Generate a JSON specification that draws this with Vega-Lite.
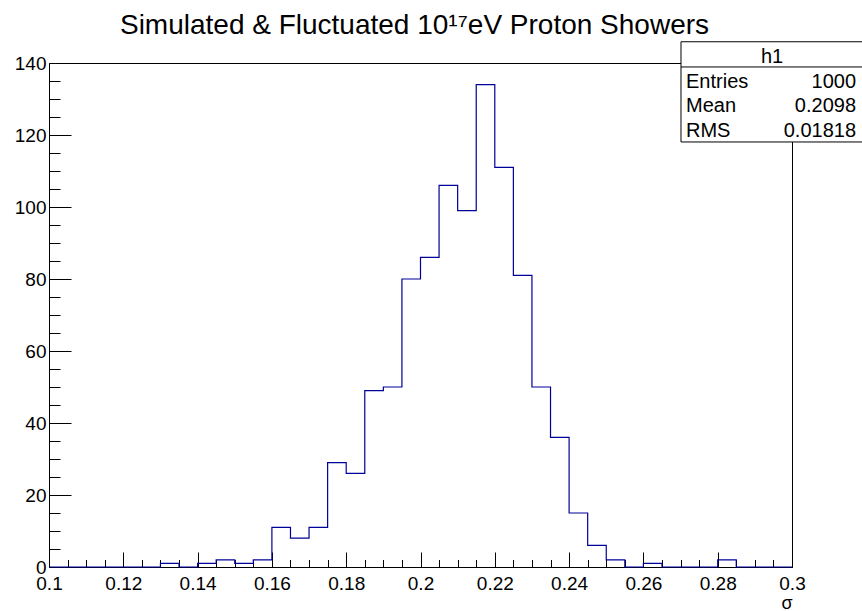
{
  "$schema": "https://vega.github.io/schema/vega-lite/v6.json",
  "width": 743,
  "height": 504,
  "autosize": {"type": "none"},
  "padding": {"left": 49, "top": 63, "right": 70, "bottom": 44},
  "background": "white",
  "config": {
    "view": {"stroke": "black", "strokeWidth": 1},
    "font": "Liberation Sans",
    "axis": {"labelFont": "Liberation Sans", "titleFont": "Liberation Sans", "labelColor": "black", "titleColor": "black", "domainColor": "black", "tickColor": "black", "grid": false}
  },
  "title": {
    "text": "Simulated & Fluctuated 10¹⁷eV Proton Showers",
    "font": "Liberation Sans",
    "fontSize": 28,
    "fontWeight": "normal",
    "color": "black",
    "anchor": "middle",
    "frame": "group",
    "baseline": "alphabetic",
    "offset": -21,
    "dx": -6
  },
  "data": {
    "values": [
      {"sigma": 0.100, "count": 0},
      {"sigma": 0.105, "count": 0},
      {"sigma": 0.110, "count": 0},
      {"sigma": 0.115, "count": 0},
      {"sigma": 0.120, "count": 0},
      {"sigma": 0.125, "count": 0},
      {"sigma": 0.130, "count": 1},
      {"sigma": 0.135, "count": 0},
      {"sigma": 0.140, "count": 1},
      {"sigma": 0.145, "count": 2},
      {"sigma": 0.150, "count": 1},
      {"sigma": 0.155, "count": 2},
      {"sigma": 0.160, "count": 11},
      {"sigma": 0.165, "count": 8},
      {"sigma": 0.170, "count": 11},
      {"sigma": 0.175, "count": 29},
      {"sigma": 0.180, "count": 26},
      {"sigma": 0.185, "count": 49},
      {"sigma": 0.190, "count": 50},
      {"sigma": 0.195, "count": 80},
      {"sigma": 0.200, "count": 86},
      {"sigma": 0.205, "count": 106},
      {"sigma": 0.210, "count": 99},
      {"sigma": 0.215, "count": 134},
      {"sigma": 0.220, "count": 111},
      {"sigma": 0.225, "count": 81},
      {"sigma": 0.230, "count": 50},
      {"sigma": 0.235, "count": 36},
      {"sigma": 0.240, "count": 15},
      {"sigma": 0.245, "count": 6},
      {"sigma": 0.250, "count": 2},
      {"sigma": 0.255, "count": 0},
      {"sigma": 0.260, "count": 1},
      {"sigma": 0.265, "count": 0},
      {"sigma": 0.270, "count": 0},
      {"sigma": 0.275, "count": 0},
      {"sigma": 0.280, "count": 2},
      {"sigma": 0.285, "count": 0},
      {"sigma": 0.290, "count": 0},
      {"sigma": 0.295, "count": 0},
      {"sigma": 0.300, "count": 0}
    ]
  },
  "layer": [
    {
      "mark": {"type": "line", "interpolate": "step-after", "color": "#000099", "strokeWidth": 1.2},
      "encoding": {
        "x": {
          "field": "sigma", "type": "quantitative",
          "scale": {"domain": [0.1, 0.3], "nice": false, "zero": false},
          "axis": {
            "orient": "bottom",
            "values": [0.1, 0.12, 0.14, 0.16, 0.18, 0.2, 0.22, 0.24, 0.26, 0.28, 0.3],
            "format": "~g",
            "tickSize": -15,
            "labelPadding": 22,
            "labelFontSize": 19,
            "labelFlush": false,
            "labelOverlap": false,
            "title": "σ",
            "titleFontSize": 18,
            "titleFontWeight": "normal",
            "titleAnchor": "end",
            "titleAlign": "right",
            "titlePadding": 1
          }
        },
        "y": {
          "field": "count", "type": "quantitative",
          "scale": {"domain": [0, 140], "nice": false},
          "axis": {
            "orient": "left",
            "values": [0, 20, 40, 60, 80, 100, 120, 140],
            "tickSize": -22,
            "labelPadding": 25,
            "labelFontSize": 19,
            "labelFlush": false,
            "labelOverlap": false,
            "title": null
          }
        }
      }
    },
    {
      "mark": {"type": "line", "opacity": 0},
      "encoding": {
        "x": {
          "field": "sigma", "type": "quantitative",
          "axis": {
            "orient": "bottom",
            "values": [0.105, 0.11, 0.115, 0.125, 0.13, 0.135, 0.145, 0.15, 0.155, 0.165, 0.17, 0.175, 0.185, 0.19, 0.195, 0.205, 0.21, 0.215, 0.225, 0.23, 0.235, 0.245, 0.25, 0.255, 0.265, 0.27, 0.275, 0.285, 0.29, 0.295],
            "tickSize": -7.5,
            "labels": false,
            "domain": false,
            "title": null
          }
        },
        "y": {
          "field": "count", "type": "quantitative",
          "axis": {
            "orient": "left",
            "values": [5, 10, 15, 25, 30, 35, 45, 50, 55, 65, 70, 75, 85, 90, 95, 105, 110, 115, 125, 130, 135],
            "tickSize": -11,
            "labels": false,
            "domain": false,
            "title": null
          }
        }
      }
    },
    {
      "data": {"values": [{}]},
      "mark": {"type": "rect", "fill": "white", "stroke": "black", "strokeWidth": 1},
      "encoding": {
        "x": {"datum": 0.27012, "type": "quantitative", "axis": null},
        "x2": {"datum": 0.3195},
        "y": {"datum": 145.9, "type": "quantitative", "axis": null},
        "y2": {"datum": 118.06}
      }
    },
    {
      "data": {"values": [{}]},
      "mark": {"type": "rule", "color": "black", "strokeWidth": 1},
      "encoding": {
        "x": {"datum": 0.27012, "type": "quantitative", "axis": null},
        "x2": {"datum": 0.3195},
        "y": {"datum": 138.9, "type": "quantitative", "axis": null}
      }
    },
    {
      "data": {"values": [{}]},
      "mark": {"type": "text", "align": "center", "baseline": "alphabetic", "fontSize": 20, "font": "Liberation Sans", "color": "black"},
      "encoding": {
        "x": {"datum": 0.29462, "type": "quantitative", "axis": null},
        "y": {"datum": 140.0, "type": "quantitative", "axis": null},
        "text": {"value": "h1"}
      }
    },
    {
      "data": {"values": [{}]},
      "mark": {"type": "text", "align": "left", "baseline": "alphabetic", "fontSize": 20, "font": "Liberation Sans", "color": "black"},
      "encoding": {
        "x": {"datum": 0.27147, "type": "quantitative", "axis": null},
        "y": {"datum": 133.06, "type": "quantitative", "axis": null},
        "text": {"value": "Entries"}
      }
    },
    {
      "data": {"values": [{}]},
      "mark": {"type": "text", "align": "left", "baseline": "alphabetic", "fontSize": 20, "font": "Liberation Sans", "color": "black"},
      "encoding": {
        "x": {"datum": 0.27147, "type": "quantitative", "axis": null},
        "y": {"datum": 126.39, "type": "quantitative", "axis": null},
        "text": {"value": "Mean"}
      }
    },
    {
      "data": {"values": [{}]},
      "mark": {"type": "text", "align": "left", "baseline": "alphabetic", "fontSize": 20, "font": "Liberation Sans", "color": "black"},
      "encoding": {
        "x": {"datum": 0.27147, "type": "quantitative", "axis": null},
        "y": {"datum": 119.44, "type": "quantitative", "axis": null},
        "text": {"value": "RMS"}
      }
    },
    {
      "data": {"values": [{}]},
      "mark": {"type": "text", "align": "right", "baseline": "alphabetic", "fontSize": 20, "font": "Liberation Sans", "color": "black"},
      "encoding": {
        "x": {"datum": 0.31723, "type": "quantitative", "axis": null},
        "y": {"datum": 133.06, "type": "quantitative", "axis": null},
        "text": {"value": "1000"}
      }
    },
    {
      "data": {"values": [{}]},
      "mark": {"type": "text", "align": "right", "baseline": "alphabetic", "fontSize": 20, "font": "Liberation Sans", "color": "black"},
      "encoding": {
        "x": {"datum": 0.31723, "type": "quantitative", "axis": null},
        "y": {"datum": 126.39, "type": "quantitative", "axis": null},
        "text": {"value": "0.2098"}
      }
    },
    {
      "data": {"values": [{}]},
      "mark": {"type": "text", "align": "right", "baseline": "alphabetic", "fontSize": 20, "font": "Liberation Sans", "color": "black"},
      "encoding": {
        "x": {"datum": 0.31723, "type": "quantitative", "axis": null},
        "y": {"datum": 119.44, "type": "quantitative", "axis": null},
        "text": {"value": "0.01818"}
      }
    }
  ],
  "resolve": {"axis": {"x": "independent", "y": "independent"}}
}
